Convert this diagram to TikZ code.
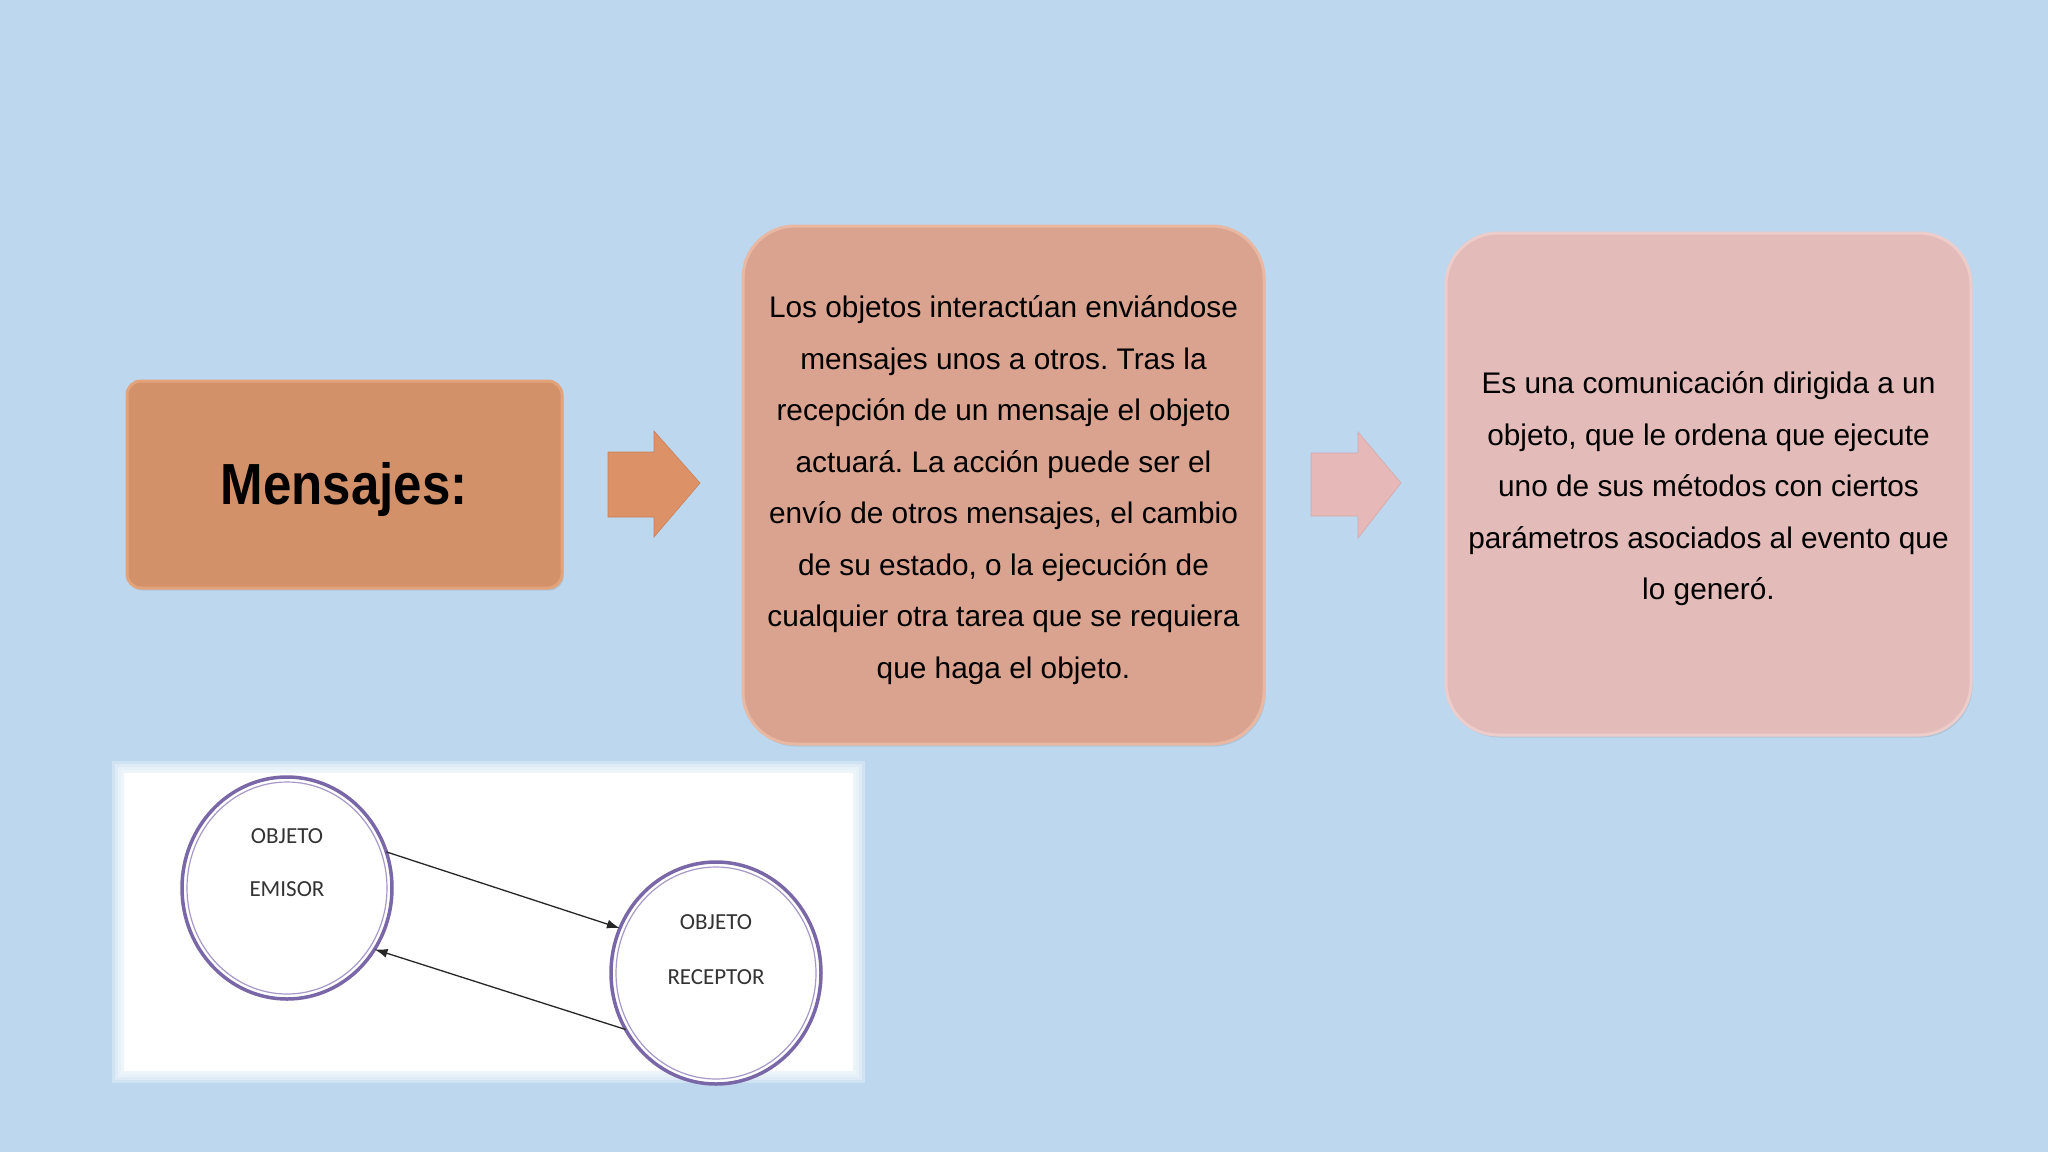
\documentclass[tikz,border=0pt]{standalone}
\usepackage{fontspec}
\setmainfont{Liberation Sans}
\newfontfamily\calfont{Carlito}
\newfontfamily\headfont[FakeStretch=0.88]{Liberation Sans}
\usetikzlibrary{shapes.geometric,shadows,arrows.meta}
\definecolor{bg}{HTML}{BDD7EE}
\definecolor{cone}{HTML}{D3916A}
\definecolor{coneedge}{HTML}{E2A27A}
\definecolor{ctwo}{HTML}{D9A390}
\definecolor{ctwoedge}{HTML}{E8B8A2}
\definecolor{cthree}{HTML}{E3BBB9}
\definecolor{cthreeedge}{HTML}{EDCDCB}
\definecolor{arone}{HTML}{DC9166}
\definecolor{artwo}{HTML}{E6B8B8}
\definecolor{cpurple}{HTML}{7A67A8}
\definecolor{cpurplelight}{HTML}{A898C8}
\begin{document}
\frenchspacing
\begin{tikzpicture}[x=1pt,y=-1pt,
  boxbase/.style={rectangle, inner sep=0pt, line width=3pt,
    drop shadow={shadow xshift=1.5pt, shadow yshift=-2.5pt, opacity=0.22}},
  headbox/.style={boxbase, rounded corners=14pt, minimum width=435pt, minimum height=207pt,
    fill=cone, draw=coneedge},
  headtext/.style={font=\headfont\bfseries\fontsize{58}{60}\selectfont, inner sep=0pt},
  textbox/.style={boxbase, rounded corners=52pt},
  bodytext/.style={align=center, inner sep=0pt, font=\fontsize{29.8}{51.5}\selectfont},
  circ/.style={ellipse, minimum width=210pt, minimum height=222pt, draw=cpurple,
    line width=3.5pt, inner sep=0pt, outer sep=0pt, fill=white},
  ringin/.style={draw=cpurplelight, line width=1.2pt},
  ctext/.style={font=\calfont\fontsize{23}{25}\selectfont, text=black!80, inner sep=0pt},
  conn/.style={-{Latex[length=13pt,width=9pt]}, line width=1.3pt, draw=black!85}
]
\fill[bg] (0,0) rectangle (2048,1152);
\useasboundingbox (0,0) rectangle (2048,1152);

% head box
\node[headbox] (mens) at (344.5,484.5) {};
\node[headtext] (menst) at (344,489) {Mensajes:};

% block arrows
\fill[arone, draw=arone!90!black, line width=0.6pt]
  (608,452) -- (654,452) -- (654,431) -- (700,483) -- (654,537) -- (654,517) -- (608,517) -- cycle;
\fill[artwo, draw=artwo!92!black, line width=0.6pt]
  (1311,453) -- (1358,453) -- (1358,432) -- (1401,483) -- (1358,538) -- (1358,516) -- (1311,516) -- cycle;

% text boxes
\node[textbox, minimum width=521pt, minimum height=518pt, fill=ctwo, draw=ctwoedge] (desc) at (1003.5,485) {};
\node[bodytext] (desct) at (1003.5,490)
  {Los objetos interactúan enviándose\\ mensajes unos a otros. Tras la\\ recepción de un mensaje el objeto\\ actuará. La acción puede ser el\\ envío de otros mensajes, el cambio\\ de su estado, o la ejecución de\\ cualquier otra tarea que se requiera\\ que haga el objeto.};
\node[textbox, minimum width=525pt, minimum height=502pt, fill=cthree, draw=cthreeedge] (defn) at (1708.5,484) {};
\node[bodytext] (defnt) at (1708.5,489)
  {Es una comunicación dirigida a un\\ objeto, que le ordena que ejecute\\ uno de sus métodos con ciertos\\ parámetros asociados al evento que\\ lo generó.};

% white picture panel with soft edges
\foreach \d in {12,9,6,3} {
  \fill[white, opacity=0.3] ({118-\d+6},{767-\d+6}) rectangle ({859+\d-6},{1077+\d-6});
}
\fill[white] (124,773) rectangle (853,1071);

% circles
\node[circ] (em) at (287,888) {};
\draw[ringin] (em.center) ellipse [x radius=100, y radius=106];
\node[circ] (rc) at (716,973) {};
\draw[ringin] (rc.center) ellipse [x radius=100, y radius=106];

\node[ctext] (emt1) at (287,836) {OBJETO};
\node[ctext] (emt2) at (287,889) {EMISOR};
\node[ctext] (rct1) at (716,922) {OBJETO};
\node[ctext] (rct2) at (716,977) {RECEPTOR};

% connectors
\draw[conn] (em.20) -- (rc.155);
\draw[conn] (rc.212) -- (em.-35);
\end{tikzpicture}
\end{document}
